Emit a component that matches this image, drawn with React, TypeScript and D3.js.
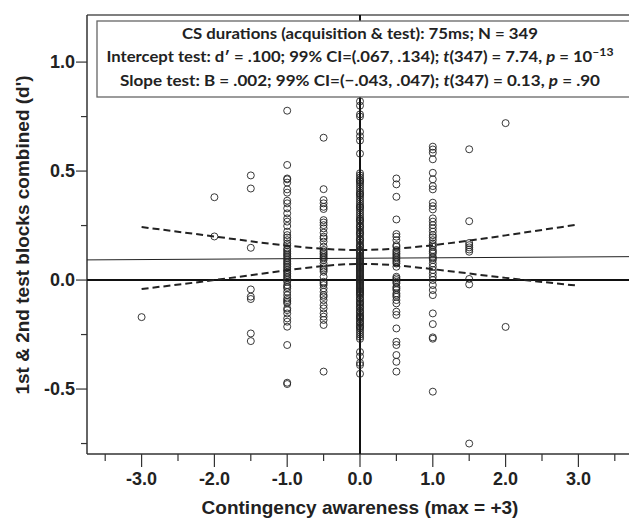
import React from "react";
import * as d3 from "d3";

// ---- data ----
const colNeg3 = [-0.17];
const colNeg2 = [0.38, 0.2];
const colNeg15 = [0.48, 0.42, 0.148, -0.043, -0.076, -0.087, -0.245, -0.28];
const colNeg1 = [
  0.777, 0.528, 0.466, 0.462, 0.447, 0.416, 0.401, 0.364, 0.352, 0.329, 0.306, 0.283, 0.268,
  0.248, 0.222, 0.206, 0.195, 0.183, 0.168, 0.16, 0.145, 0.138, 0.13, 0.122, 0.115, 0.108, 0.1,
  0.092, 0.084, 0.077, 0.07, 0.062, 0.055, 0.046, 0.038, 0.031, 0.023, 0.015, 0.008, 0.0, -0.008,
  -0.023, -0.031, -0.038, -0.054, -0.069, -0.084, -0.092, -0.1, -0.107, -0.13, -0.138, -0.153,
  -0.176, -0.191, -0.214, -0.298, -0.471, -0.477,
];
const colNeg05 = [
  0.653, 0.417, 0.367, 0.352, 0.336, 0.326, 0.275, 0.264, 0.252, 0.237, 0.217, 0.199, 0.191,
  0.176, 0.153, 0.138, 0.13, 0.122, 0.115, 0.107, 0.1, 0.092, 0.076, 0.061, 0.053, 0.046, 0.038,
  0.015, -0.008, -0.015, -0.023, -0.038, -0.054, -0.069, -0.077, -0.092, -0.115, -0.13, -0.153,
  -0.168, -0.183, -0.206, -0.42,
];
const col0 = [
  0.82, 0.8, 0.76, 0.75, 0.68, 0.66, 0.64, 0.58,
  0.49, 0.48, 0.47, 0.46, 0.455, 0.45, 0.44, 0.43, 0.42, 0.41, 0.4, 0.395, 0.39, 0.38, 0.37, 0.36,
  0.35, 0.34, 0.335, 0.33, 0.32, 0.31, 0.3, 0.29, 0.28, 0.275, 0.27, 0.26, 0.25, 0.245, 0.24, 0.23,
  0.22, 0.215, 0.21, 0.2, 0.19, 0.185, 0.18, 0.17, 0.16, 0.155, 0.15, 0.14, 0.135, 0.13, 0.125,
  0.12, 0.11, 0.105, 0.1, 0.095, 0.09, 0.085, 0.08, 0.075, 0.07, 0.065, 0.06, 0.055, 0.05, 0.045,
  0.04, 0.035, 0.03, 0.025, 0.02, 0.015, 0.01, 0.005, 0.0, -0.005, -0.01, -0.015, -0.02, -0.025,
  -0.03, -0.035, -0.04, -0.045, -0.05, -0.055, -0.06, -0.065, -0.07, -0.08, -0.085, -0.09, -0.1,
  -0.105, -0.11, -0.12, -0.125, -0.13, -0.14, -0.145, -0.15, -0.16, -0.165, -0.17, -0.175, -0.18,
  -0.19, -0.195, -0.2, -0.21, -0.215, -0.22, -0.23, -0.24, -0.25, -0.26, -0.27,
  -0.33, -0.35, -0.38, -0.39, -0.43,
];
const col05 = [
  0.466, 0.439, 0.382, 0.278, 0.211, 0.199, 0.183, 0.16, 0.153, 0.138, 0.13, 0.122, 0.115, 0.107,
  0.1, 0.092, 0.084, 0.076, 0.061, 0.015, 0.008, 0.0, -0.008, -0.015, -0.031, -0.038, -0.046,
  -0.061, -0.069, -0.077, -0.092, -0.107, -0.145, -0.16, -0.222, -0.283, -0.298, -0.344, -0.375,
  -0.42,
];
const col1 = [
  0.612, 0.599, 0.584, 0.554, 0.492, 0.462, 0.431, 0.416, 0.355, 0.339, 0.324, 0.283, 0.268,
  0.252, 0.237, 0.222, 0.206, 0.196, 0.183, 0.168, 0.16, 0.153, 0.138, 0.13, 0.122, 0.107, 0.1,
  0.092, 0.076, 0.061, 0.046, 0.031, 0.015, 0.0, -0.023, -0.046, -0.069, -0.153, -0.202, -0.263,
  -0.269, -0.512,
];
const col15 = [0.6, 0.27, 0.17, 0.16, 0.15, 0.14, 0.13, 0.005, -0.02, -0.75];
const col2 = [0.72, -0.215];

const columns: [number, number[]][] = [
  [-3, colNeg3], [-2, colNeg2], [-1.5, colNeg15], [-1, colNeg1], [-0.5, colNeg05],
  [0, col0], [0.5, col05], [1, col1], [1.5, col15], [2, col2],
];

// regression and 99% CI band
const interceptVal = 0.1;
const slopeVal = 0.002;
const bandX = [-3, -2, -1, 0, 1, 2, 3];
const bandUpper = [0.243, 0.2, 0.158, 0.138, 0.16, 0.205, 0.255];
const bandLower = [-0.041, 0.0, 0.045, 0.074, 0.05, 0.01, -0.026];

const xMajor = [-3, -2, -1, 0, 1, 2, 3];
const xMinor = [-3.5, -2.5, -1.5, -0.5, 0.5, 1.5, 2.5, 3.5];
const yMajor = [-0.5, 0, 0.5, 1.0];
const yMinor = [-0.75, -0.25, 0.25, 0.75];

const fmt = (v: number) => d3.format(".1f")(v).replace("−", "-");

export default function App() {
  const W = 629, H = 519;
  const left = 87, top = 15, bottom = 454, right = 633;
  const x = d3.scaleLinear().domain([-3.75, 3.75]).range([left, right]);
  const y = d3.scaleLinear().domain([-0.798, 1.216]).range([bottom, top]);

  const pts: { x: number; y: number }[] = [];
  columns.forEach(([cx, vals]) => vals.forEach((v) => pts.push({ x: cx, y: v })));

  const bandLine = d3
    .line<number>()
    .x((_, i) => x(bandX[i]))
    .y((d) => y(d))
    .curve(d3.curveNatural);

  const fontAxis = "'Liberation Sans', Arial, sans-serif";
  const fontBox = "Lato, 'Open Sans', sans-serif";

  return (
    <svg
      width={W}
      height={H}
      style={{ position: "absolute", left: 0, top: 0, background: "#fff" }}
    >
      <defs>
        <clipPath id="plotClip">
          <rect x={left} y={top} width={right - left} height={bottom - top} />
        </clipPath>
      </defs>
      {/* frame */}
      <line x1={left} x2={W} y1={top} y2={top} stroke="#555" strokeWidth={1.5} />
      <line x1={left} x2={left} y1={top} y2={bottom} stroke="#333" strokeWidth={1.5} />
      <line x1={left} x2={W} y1={bottom} y2={bottom} stroke="#333" strokeWidth={1.5} />

      <g clipPath="url(#plotClip)">
        {/* reference lines */}
        <line x1={x(0)} x2={x(0)} y1={top} y2={bottom} stroke="#111" strokeWidth={2} />
        <line x1={left} x2={right} y1={y(0)} y2={y(0)} stroke="#111" strokeWidth={2} />
        {/* regression line */}
        <line
          x1={left}
          x2={right}
          y1={y(interceptVal + slopeVal * -3.75)}
          y2={y(interceptVal + slopeVal * 3.75)}
          stroke="#222"
          strokeWidth={1}
        />
        {/* CI */}
        <path d={bandLine(bandUpper) || ""} fill="none" stroke="#222" strokeWidth={2} strokeDasharray="7,4" />
        <path d={bandLine(bandLower) || ""} fill="none" stroke="#222" strokeWidth={2} strokeDasharray="7,4" />
        {/* points */}
        {pts.map((p, i) => (
          <circle key={i} cx={x(p.x)} cy={y(p.y)} r={3.5} fill="none" stroke="#222" strokeWidth={0.9} />
        ))}
      </g>

      {/* y ticks */}
      {yMajor.map((t) => (
        <g key={"ym" + t}>
          <line x1={left - 11} x2={left} y1={y(t)} y2={y(t)} stroke="#333" strokeWidth={1.2} />
          <text
            x={left - 12}
            y={y(t) + 6}
            textAnchor="end"
            fontFamily={fontAxis}
            fontWeight="bold"
            fontSize={18}
            fill="#222"
          >
            {fmt(t)}
          </text>
        </g>
      ))}
      {yMinor.map((t) => (
        <line key={"yn" + t} x1={left - 6} x2={left} y1={y(t)} y2={y(t)} stroke="#333" strokeWidth={1.2} />
      ))}
      {/* x ticks */}
      {xMajor.map((t) => (
        <g key={"xm" + t}>
          <line x1={x(t)} x2={x(t)} y1={bottom} y2={bottom + 13} stroke="#333" strokeWidth={1.2} />
          <text
            x={x(t)}
            y={bottom + 31}
            textAnchor="middle"
            fontFamily={fontAxis}
            fontWeight="bold"
            fontSize={18}
            fill="#222"
          >
            {fmt(t)}
          </text>
        </g>
      ))}
      {xMinor.map((t) => (
        <line key={"xn" + t} x1={x(t)} x2={x(t)} y1={bottom} y2={bottom + 7} stroke="#333" strokeWidth={1.2} />
      ))}

      {/* axis titles */}
      <text
        x={360}
        y={514}
        textAnchor="middle"
        fontFamily={fontAxis}
        fontWeight="bold"
        fontSize={19}
        fill="#222"
      >
        Contingency awareness (max = +3)
      </text>
      <text
        transform="translate(29,235) rotate(-90)"
        textAnchor="middle"
        fontFamily={fontAxis}
        fontWeight="bold"
        fontSize={19}
        fill="#222"
      >
        1st &amp; 2nd test blocks combined (d')
      </text>

      {/* stats box */}
      <rect x={97} y={21} width={560} height={76} fill="#fff" stroke="#666" strokeWidth={1.3} />
      <text
        x={360}
        y={39}
        textAnchor="middle"
        fontFamily={fontBox}
        fontWeight="bold"
        fontSize={15}
        fill="#222"
        textLength={356}
        lengthAdjust="spacingAndGlyphs"
      >
        CS durations (acquisition &amp; test): 75ms; N = 349
      </text>
      <text
        x={360}
        y={62}
        textAnchor="middle"
        fontFamily={fontBox}
        fontWeight="bold"
        fontSize={15}
        fill="#222"
        textLength={507}
        lengthAdjust="spacingAndGlyphs"
      >
        Intercept test:  d′ = .100; 99% CI=(.067,  .134);  <tspan fontStyle="italic">t</tspan>(347) = 7.74,{" "}
        <tspan fontStyle="italic">p</tspan> = 10
        <tspan dy={-6} fontSize={11}>–13</tspan>
      </text>
      <text
        x={360}
        y={86}
        textAnchor="middle"
        fontFamily={fontBox}
        fontWeight="bold"
        fontSize={15}
        fill="#222"
        textLength={480}
        lengthAdjust="spacingAndGlyphs"
      >
        Slope test:  B = .002; 99% CI=(−.043,  .047);  <tspan fontStyle="italic">t</tspan>(347) = 0.13,{" "}
        <tspan fontStyle="italic">p</tspan> = .90
      </text>
    </svg>
  );
}
